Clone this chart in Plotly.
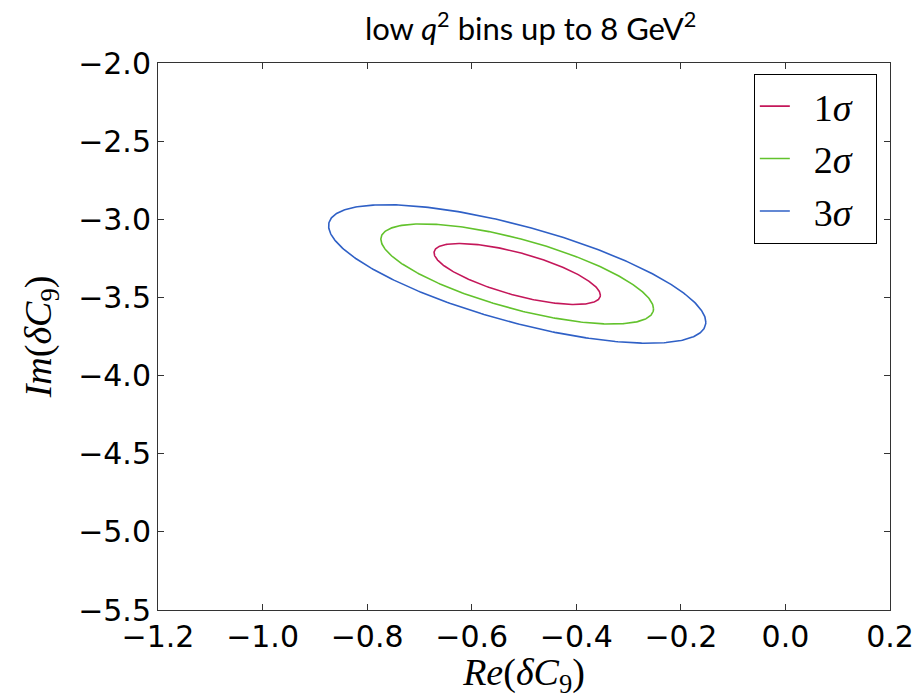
import numpy as np
import plotly.graph_objects as go

# Best-fit point and covariance of (Re dC9, Im dC9)
center = [-0.513, -3.35]
cov = [[0.0110, -0.0094],
       [-0.0094, 0.0166]]

# Delta chi^2 levels for 1, 2, 3 sigma (2 parameters)
labels = ["1<i>σ</i>", "2<i>σ</i>", "3<i>σ</i>"]
dchi2 = [2.30, 6.18, 11.83]
colors = ["#c4175a", "#62c22c", "#2f60c6"]

x_ticks = [-1.2, -1.0, -0.8, -0.6, -0.4, -0.2, 0.0, 0.2]
y_ticks = [-2.0, -2.5, -3.0, -3.5, -4.0, -4.5, -5.0, -5.5]


def contour(level, n=400):
    t = np.linspace(0, 2 * np.pi, n)
    L = np.linalg.cholesky(np.array(cov))
    pts = np.sqrt(level) * L @ np.vstack([np.cos(t), np.sin(t)])
    return center[0] + pts[0], center[1] + pts[1]


fig = go.Figure()
for lab, lev, col in zip(labels, dchi2, colors):
    x, y = contour(lev)
    fig.add_trace(go.Scatter(
        x=x, y=y, mode="lines", name="\u2002" + lab + "\u2002",
        line=dict(color=col, width=1.6),
    ))

tick_font = dict(family="DejaVu Sans", size=30, color="black")
title_font = dict(family="Liberation Serif", size=38, color="black")

fig.update_layout(
    width=918, height=699,
    margin=dict(l=158, r=28, t=63, b=89),
    paper_bgcolor="white", plot_bgcolor="white",
    title=dict(
        text="low <i>q</i><sup>2</sup> bins up to 8 GeV<sup>2</sup>",
        x=0.578, xanchor="center", y=0.958, yanchor="middle",
        font=dict(family="Lato", size=31, color="black"),
    ),
    showlegend=True,
    legend=dict(
        x=0.982, xanchor="right", y=0.98, yanchor="top",
        bgcolor="white", bordercolor="black", borderwidth=1,
        font=dict(family="Liberation Serif", size=38, color="black"),
        itemwidth=30, tracegroupgap=0,
    ),
    xaxis=dict(
        range=[-1.2, 0.2], tickvals=x_ticks,
        ticktext=[f"{v:.1f}".replace("-", "\u2212") for v in x_ticks],
        showgrid=False, zeroline=False, automargin=False,
        showline=True, linecolor="#333333", linewidth=1, mirror="ticks",
        ticks="inside", ticklen=6, tickcolor="#333333",
        tickfont=tick_font,
        title=dict(text="<i>Re</i>(<i>δC</i><sub>9</sub>)", font=title_font, standoff=18),
    ),
    yaxis=dict(
        range=[-5.5, -2.0], tickvals=y_ticks,
        ticktext=[f"{v:.1f}".replace("-", "\u2212") for v in y_ticks],
        showgrid=False, zeroline=False, automargin=False,
        showline=True, linecolor="#333333", linewidth=1, mirror="ticks",
        ticks="inside", ticklen=6, tickcolor="#333333",
        tickfont=tick_font,
        title=dict(text="<i>Im</i>(<i>δC</i><sub>9</sub>)", font=title_font, standoff=14),
    ),
)

fig.write_html("out.html")
